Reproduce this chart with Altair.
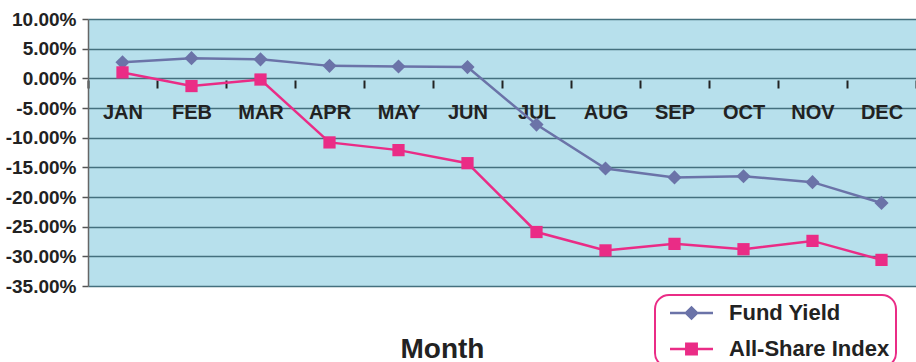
import altair as alt
import pandas as pd

months = ["JAN", "FEB", "MAR", "APR", "MAY", "JUN", "JUL", "AUG", "SEP", "OCT", "NOV", "DEC"]
fund_yield = [2.7, 3.4, 3.2, 2.1, 2.0, 1.9, -7.8, -15.2, -16.7, -16.5, -17.5, -21.0]
all_share = [1.0, -1.3, -0.2, -10.8, -12.1, -14.3, -25.9, -29.0, -27.9, -28.8, -27.4, -30.6]
series_names = ["Fund Yield", "All-Share Index"]
series_colors = ["#6b73a8", "#ea2c86"]
y_ticks = [10, 5, 0, -5, -10, -15, -20, -25, -30, -35]

rows = []
for m, v in zip(months, fund_yield):
    rows.append({"month": m, "series": series_names[0], "val": v})
for m, v in zip(months, all_share):
    rows.append({"month": m, "series": series_names[1], "val": v})
df = pd.DataFrame(rows)

legend_df = pd.DataFrame({"month": ["JAN", "JAN"], "series": series_names, "val": [None, None]})

FONT = "Liberation Sans"

x_enc = alt.X(
    "month:N",
    sort=months,
    scale=alt.Scale(domain=months, paddingInner=0, paddingOuter=0),
    axis=alt.Axis(
        title="Month",
        titleFont=FONT, titleFontSize=28, titleFontWeight="bold", titleColor="#222222",
        titleX=354, titleY=269, titleBaseline="middle", titleAlign="center",
        labelFont=FONT, labelFontSize=20, labelFontWeight="bold", labelColor="#222222",
        labelPadding=14, labelAngle=0,
        tickBand="extent", tickSize=8, tickWidth=2, tickColor="#222222",
        domain=False, grid=False, offset=-206,
    ),
)
y_enc = alt.Y(
    "val:Q",
    scale=alt.Scale(domain=[-35, 10], nice=False, zero=False),
    axis=alt.Axis(
        title=None, values=y_ticks,
        labelExpr="replace(format(datum.value, '.2f'), '\u2212', '-') + '%'",
        labelFont=FONT, labelFontSize=19, labelFontWeight="bold", labelColor="#222222",
        labelPadding=6, tickSize=6, tickColor="#555555", tickWidth=1.5,
        domain=True, domainColor="#666666", domainWidth=1.5,
        grid=True, gridColor="#44707e", gridWidth=1.5, gridOpacity=1,
    ),
)
color_scale = alt.Scale(domain=series_names, range=series_colors)

lines = alt.Chart(df).mark_line(strokeWidth=2.5).encode(
    x=x_enc, y=y_enc,
    color=alt.Color("series:N", scale=color_scale, legend=None),
    detail="series:N",
)

pts_fund = alt.Chart(df).transform_filter(
    alt.datum.series == series_names[0]
).mark_point(shape="diamond", filled=True, size=200, opacity=1).encode(
    x=x_enc, y=y_enc,
    color=alt.Color("series:N", scale=color_scale, legend=None),
)
pts_share = alt.Chart(df).transform_filter(
    alt.datum.series == series_names[1]
).mark_point(shape="square", filled=True, size=150, opacity=1).encode(
    x=x_enc, y=y_enc,
    color=alt.Color("series:N", scale=color_scale, legend=None),
)

diamond_path = "M-1,-0.06L1,-0.06L1,0.06L-1,0.06ZM0,-0.34L0.34,0L0,0.34L-0.34,0Z"
square_path = "M-1,-0.06L1,-0.06L1,0.06L-1,0.06ZM-0.3,-0.3L0.3,-0.3L0.3,0.3L-0.3,0.3Z"

legend_props = dict(
    title=None, orient="none", legendX=567, legendY=276,
    labelFont=FONT, labelFontSize=22, labelFontWeight="bold", labelColor="#222222",
    labelLimit=400,
    fillColor="white", strokeColor="#ea2c86",
    padding=6, rowPadding=12, clipHeight=24, symbolOffset=9, labelOffset=16,
    symbolStrokeWidth=0, symbolSize=1849,
)

legend_layer = alt.Chart(legend_df).mark_point(filled=True, size=1849, opacity=1).encode(
    x=x_enc, y=y_enc,
    color=alt.Color("series:N", scale=color_scale, legend=alt.Legend(**legend_props)),
    shape=alt.Shape(
        "series:N",
        scale=alt.Scale(domain=series_names, range=[diamond_path, square_path]),
        legend=alt.Legend(**legend_props),
    ),
)

chart = alt.layer(lines, pts_fund, pts_share, legend_layer).resolve_legend(
    color="independent", shape="independent"
).properties(
    width=828, height=267,
    autosize=alt.AutoSizeParams(type="none"),
    padding={"left": 88, "top": 19, "right": 0, "bottom": 76},
    background="white",
).configure_view(
    fill="#b7e0ec", stroke=None,
).configure_legend(
    strokeWidth=2, cornerRadius=14,
)

chart.save("out.html", embed_options={"renderer": "svg", "actions": False})
